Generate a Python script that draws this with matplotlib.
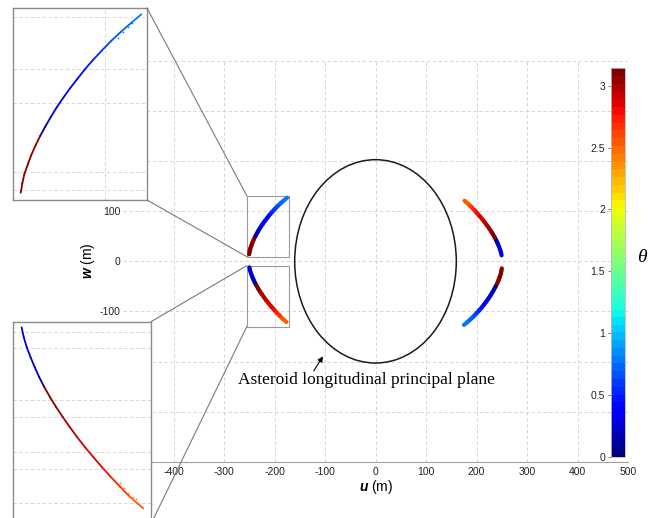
import numpy as np
import matplotlib
matplotlib.use("Agg")
import matplotlib.pyplot as plt
from matplotlib.collections import LineCollection
from matplotlib.patches import Ellipse, Rectangle, ConnectionPatch
from matplotlib.colors import Normalize
from matplotlib.cm import ScalarMappable

plt.rcParams["font.family"] = ["Liberation Sans", "DejaVu Sans"]
plt.rcParams["axes.unicode_minus"] = False
plt.rcParams["mathtext.fontset"] = "custom"
plt.rcParams["mathtext.bf"] = "Liberation Sans:italic:bold"
plt.rcParams["mathtext.rm"] = "Liberation Sans"

# upper-left arc (u, w, theta)
ul_w = [14, 20, 26, 32, 38, 44, 50, 56, 62, 68, 74, 80, 86, 92, 98, 104, 110, 116, 122, 127]
ul_u = [-250.1, -249.1, -247.8, -245.7, -243.5, -240.9, -238.0, -234.8, -231.4, -227.8,
        -223.8, -219.6, -215.0, -210.4, -205.3, -199.8, -194.1, -187.8, -181.0, -175.2]
ul_t = [3.12, 3.10, 3.10, 3.08, 3.07, 3.05, 0.08, 0.15, 0.22, 0.28,
        0.33, 0.38, 0.43, 0.48, 0.54, 0.60, 0.67, 0.74, 0.80, 0.86]
# lower-left arc
ll_w = [-12, -18, -24, -30, -36, -42, -48, -54, -60, -66, -72, -78, -84, -90, -96, -102, -108, -114, -121]
ll_u = [-249.7, -248.4, -246.6, -244.3, -241.8, -239.1, -236.0, -232.6, -228.9, -224.9,
        -220.7, -216.3, -211.6, -206.6, -201.4, -196.0, -190.3, -184.4, -176.4]
ll_t = [0.28, 0.30, 0.30, 0.25, 0.20, 0.12, 3.10, 3.08, 3.05, 3.00,
        2.97, 2.93, 2.88, 2.83, 2.78, 2.72, 2.65, 2.57, 2.48]
# upper-right arc
ur_w = [12, 18, 24, 30, 36, 42, 48, 54, 60, 66, 72, 78, 84, 90, 96, 102, 108, 114, 121]
ur_u = [249.7, 248.4, 246.6, 244.3, 241.8, 239.1, 236.0, 232.6, 228.9, 224.9,
        220.7, 216.3, 211.6, 206.6, 201.4, 196.0, 190.3, 184.4, 176.4]
ur_t = [0.28, 0.30, 0.30, 0.25, 0.20, 0.12, 3.10, 3.08, 3.05, 3.00,
        2.97, 2.93, 2.88, 2.83, 2.78, 2.72, 2.65, 2.57, 2.48]
# lower-right arc
lr_w = [-14, -20, -26, -32, -38, -44, -50, -56, -62, -68, -74, -80, -86, -92, -98, -104, -110, -116, -122, -127]
lr_u = [250.1, 249.1, 247.8, 245.7, 243.5, 240.9, 238.0, 234.8, 231.4, 227.8,
        223.8, 219.6, 215.0, 210.4, 205.3, 199.8, 194.1, 187.8, 181.0, 175.2]
lr_t = [3.12, 3.10, 3.10, 3.08, 3.07, 3.05, 0.08, 0.15, 0.22, 0.28,
        0.33, 0.38, 0.43, 0.48, 0.54, 0.60, 0.67, 0.74, 0.80, 0.86]

# stray points near the arc ends
s1_u = [-189.5, -186.4, -183.3, -181.2]
s1_w = [111.8, 115.6, 119.2, 121.3]
s2_u = [-190.4, -188.0, -185.4, -182.8, -180.8]
s2_w = [-105.6, -109.0, -111.6, -114.0, -115.6]

cb_ticks = [0, 0.5, 1, 1.5, 2, 2.5, 3]
cb_labels = ["0", "0.5", "1", "1.5", "2", "2.5", "3"]

cmap = plt.get_cmap("jet", 50)
norm = Normalize(0, np.pi)


def arc(axis, u, w, t, lw):
    pts = np.column_stack([u, w])
    segs = np.stack([pts[:-1], pts[1:]], axis=1)
    lc = LineCollection(segs, colors=cmap(norm(t[:-1])), linewidths=lw,
                        capstyle="round", joinstyle="round", zorder=3)
    axis.add_collection(lc)


W, H = 658, 518
fig = plt.figure(figsize=(W / 100, H / 100), dpi=100)

ax = fig.add_axes([123 / W, 1 - 461.7 / H, 505 / W, 400.7 / H])
ax.set_xlim(-500, 500)
ax.set_ylim(-400, 400)
ax.set_xticks(range(-400, 501, 100))
ax.set_yticks(range(-400, 401, 100))
ax.grid(True, ls=(0, (4, 3)), color="#cfcfcf", lw=0.6)
ax.set_axisbelow(True)
for s in ["top", "right", "left"]:
    ax.spines[s].set_visible(False)
ax.spines["bottom"].set_color("#a0a0a0")
ax.spines["bottom"].set_linewidth(0.8)
ax.tick_params(length=0, labelsize=7.5, labelcolor="#222222")
ax.tick_params(axis="x", pad=4)
ax.tick_params(axis="y", pad=2)

ax.add_patch(Ellipse((0, 0), 320, 406, fill=False, ec="#1a1a1a", lw=1.1))
for u, w, t in [(ul_u, ul_w, ul_t), (ll_u, ll_w, ll_t), (ur_u, ur_w, ur_t), (lr_u, lr_w, lr_t)]:
    arc(ax, u, w, t, 3.0)

src1 = (-254.9, 9.4, 83.2, 121.6)
src2 = (-254.9, -130.4, 83.2, 121.8)
for x0, y0, dx, dy in [src1, src2]:
    ax.add_patch(Rectangle((x0, y0), dx, dy, fill=False, ec="#9a9a9a", lw=0.8))

ax.annotate("", xy=(-101, -184.8), xytext=(-125.3, -223.5),
            arrowprops=dict(arrowstyle="-|>", color="black", lw=0.8, mutation_scale=8))
ax.text(-272.7, -236, "Asteroid longitudinal principal plane",
        family="Liberation Serif", fontsize=12.5, va="center", ha="left")

fig.text(376 / W, 1 - 486.7 / H, r"$\mathbf{u}$ (m)", ha="center", va="center", fontsize=10)
fig.text(88 / W, 1 - 261 / H, r"$\mathbf{w}$ (m)", ha="center", va="center",
         fontsize=10, rotation=90)

# inset 1 (upper-left arc)
ax1 = fig.add_axes([13 / W, 1 - 200 / H, 134 / W, 192 / H])
ax1.set_xlim(src1[0], src1[0] + src1[2])
ax1.set_ylim(src1[1], src1[1] + src1[3])
ax1.set_xticks([-197.6])
ax1.set_yticks([15.7, 27.1, 70.6, 92.2, 125.1])
arc(ax1, ul_u, ul_w, ul_t, 1.3)
ax1.scatter(s1_u, s1_w, s=1.5, color=cmap(norm(0.8)), lw=0, zorder=3)

# inset 2 (lower-left arc)
ax2 = fig.add_axes([13 / W, 1 - 524 / H, 138 / W, 202.3 / H])
ax2.set_xlim(src2[0], src2[0] + src2[2])
ax2.set_ylim(src2[1], src2[1] + src2[3])
ax2.set_xticks([])
ax2.set_yticks([-118.0, -97.3, -86.9, -66.2, -55.8, -24.6, -14.6])
arc(ax2, ll_u, ll_w, ll_t, 1.3)
ax2.scatter(s2_u, s2_w, s=1.5, color=cmap(norm(2.4)), lw=0, zorder=3)

for a in [ax1, ax2]:
    a.grid(True, ls=(0, (4, 3)), color="#d0d0d0", lw=0.6)
    a.set_axisbelow(True)
    a.tick_params(length=0, labelbottom=False, labelleft=False)
    for s in a.spines.values():
        s.set_color("#8a8a8a")
        s.set_linewidth(1.0)

for a, src in [(ax1, src1), (ax2, src2)]:
    for ya, yb in [(1, src[1] + src[3]), (0, src[1])]:
        cp = ConnectionPatch(xyA=(1, ya), coordsA=a.transAxes, xyB=(src[0], yb),
                             coordsB=ax.transData, color="#7a7a7a", lw=0.8)
        fig.add_artist(cp)

# colour bar
cax = fig.add_axes([610.7 / W, 1 - 456.7 / H, 14.3 / W, 388.4 / H])
sm = ScalarMappable(norm=norm, cmap=cmap)
cb = fig.colorbar(sm, cax=cax, ticks=cb_ticks)
cb.ax.set_yticklabels(cb_labels)
cax.yaxis.set_ticks_position("left")
cax.yaxis.set_label_position("left")
cax.tick_params(length=2, width=0.6, color="#666666", labelsize=7.5, labelcolor="#222222", pad=2)
cb.outline.set_edgecolor("#bbbbbb")
cb.outline.set_linewidth(0.6)
fig.text(641.7 / W, 1 - 258 / H, "θ", family="Liberation Serif", style="italic",
         fontsize=14, ha="center", va="center")

fig.savefig("out.png", dpi=100)
